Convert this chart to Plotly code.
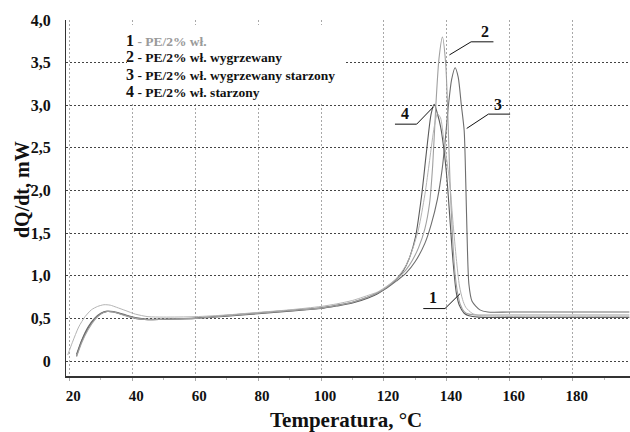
import plotly.graph_objects as go

# ---------------- data ----------------
t1 = [19.5, 21, 23, 25, 27, 29, 31, 33, 35, 38, 41, 45, 50, 60, 70, 80, 90, 100, 105, 110, 115, 118, 121, 124, 127, 129, 131, 133, 134.5, 136, 137, 138, 139, 140, 141, 142, 143, 144, 145, 146, 148, 150, 155, 165, 180, 198]
y1 = [0.07, 0.22, 0.40, 0.52, 0.60, 0.64, 0.66, 0.655, 0.63, 0.59, 0.55, 0.52, 0.515, 0.52, 0.54, 0.57, 0.60, 0.64, 0.67, 0.71, 0.77, 0.81, 0.88, 0.97, 1.12, 1.30, 1.55, 1.95, 2.35, 2.75, 2.90, 2.85, 2.60, 2.35, 2.05, 1.60, 1.20, 0.88, 0.72, 0.63, 0.56, 0.535, 0.525, 0.52, 0.52, 0.52]

t2 = [22.3, 24, 26, 28, 30, 32, 34, 37, 41, 45, 50, 60, 70, 80, 90, 100, 105, 110, 115, 118, 121, 124, 127, 129, 131, 133, 134.5, 135.5, 136.5, 137.5, 138.6, 139.6, 140.2, 141, 141.8, 142.6, 143.4, 144.3, 145.5, 147, 150, 155, 165, 180, 198]
y2 = [0.05, 0.22, 0.37, 0.48, 0.55, 0.58, 0.575, 0.54, 0.50, 0.485, 0.49, 0.50, 0.53, 0.56, 0.59, 0.62, 0.65, 0.69, 0.75, 0.80, 0.87, 0.96, 1.07, 1.18, 1.33, 1.55, 1.85, 2.30, 3.00, 3.55, 3.80, 3.50, 3.00, 2.10, 1.45, 1.02, 0.80, 0.66, 0.58, 0.55, 0.54, 0.54, 0.54, 0.54, 0.54]

t3 = [22.3, 24, 26, 28, 30, 32, 34, 37, 41, 45, 50, 60, 70, 80, 90, 100, 105, 110, 115, 118, 121, 124, 127, 130, 133, 135, 137, 138.5, 139.5, 140.5, 141.5, 142.6, 143.6, 144.6, 145.5, 146.0, 146.4, 147.0, 148.0, 150.5, 153, 160, 180, 198]
y3 = [0.08, 0.25, 0.40, 0.50, 0.56, 0.585, 0.58, 0.55, 0.51, 0.49, 0.49, 0.505, 0.535, 0.565, 0.595, 0.625, 0.655, 0.69, 0.75, 0.80, 0.86, 0.94, 1.03, 1.17, 1.38, 1.60, 1.90, 2.25, 2.60, 3.00, 3.30, 3.44, 3.33, 3.00, 2.70, 2.10, 1.50, 0.90, 0.70, 0.60, 0.575, 0.575, 0.575, 0.575]

t4 = [22.3, 24, 26, 28, 30, 32, 34, 37, 41, 45, 50, 60, 70, 80, 90, 100, 105, 110, 115, 118, 121, 124, 126, 128, 130, 132, 133.5, 135, 136, 137, 138, 139, 140, 141, 142, 143, 144, 145.5, 147, 150, 155, 165, 180, 198]
y4 = [0.06, 0.24, 0.39, 0.49, 0.555, 0.58, 0.575, 0.545, 0.50, 0.485, 0.49, 0.50, 0.525, 0.555, 0.585, 0.615, 0.645, 0.68, 0.74, 0.79, 0.86, 0.96, 1.05, 1.20, 1.45, 1.95, 2.45, 2.90, 3.01, 2.90, 2.75, 2.50, 2.15, 1.65, 1.15, 0.80, 0.65, 0.56, 0.53, 0.515, 0.51, 0.51, 0.51, 0.51]

legend_nums = ["1", "2", "3", "4"]
legend_texts = ["PE/2% wł.", "PE/2% wł. wygrzewany", "PE/2% wł. wygrzewany starzony", "PE/2% wł. starzony"]

x_ticks = [20, 40, 60, 80, 100, 120, 140, 160, 180]
y_ticks = [0, 0.5, 1.0, 1.5, 2.0, 2.5, 3.0, 3.5, 4.0]
y_ticktext = ["0", "0,5", "1,0", "1,5", "2,0", "2,5", "3,0", "3,5", "4,0"]

# callout labels: (label, text x, text y, leader polyline xs, ys)
callouts = [
    ("2", 152.2, 3.86, [154.8, 147.7, 140.8], [3.744, 3.744, 3.59]),
    ("3", 156.4, 3.01, [160.1, 153.2, 146.3], [2.896, 2.896, 2.728]),
    ("4", 126.7, 2.90, [123.5, 130.4, 135.7], [2.778, 2.778, 2.98]),
    ("1", 135.7, 0.75, [132.5, 139.4, 144.2], [0.615, 0.615, 0.79]),
]

# ---------------- figure ----------------
SERIF = "Liberation Serif"
fig = go.Figure()

series = [
    (t4, y4, "#5a5a5a", 1.1),
    (t3, y3, "#6e6e6e", 1.1),
    (t2, y2, "#a0a0a0", 1.1),
    (t1, y1, "#b4b4b4", 1.0),
]
for tx, ty, col, w in series:
    fig.add_trace(go.Scatter(x=tx, y=ty, mode="lines",
                             line=dict(color=col, width=w, shape="spline", smoothing=0.7),
                             showlegend=False, hoverinfo="skip"))

for lab, tx, ty, lx, ly in callouts:
    fig.add_trace(go.Scatter(x=lx, y=ly, mode="lines", line=dict(color="#111", width=1),
                             showlegend=False, hoverinfo="skip"))
    fig.add_annotation(x=tx, y=ty, text=f"<b>{lab}</b>", showarrow=False,
                       xanchor="center", yanchor="middle",
                       font=dict(family=SERIF, size=16, color="#111"))

# plot-area pixel frame
L, R, T, B = 66, 630, 20, 376
W, H = R - L, B - T
def px(x):
    return (x - L) / W
def py(y):
    return 1 - (y - T) / H

# legend box
fig.add_shape(type="rect", xref="paper", yref="paper",
              x0=px(127), x1=px(345), y0=py(102), y1=py(25),
              fillcolor="white", line=dict(width=0), layer="above")
row_y = [40, 57, 74, 91]
for i, (n, txt) in enumerate(zip(legend_nums, legend_texts)):
    col = "#9a9a9a" if i == 0 else "#111"
    fig.add_annotation(xref="paper", yref="paper", x=px(124), y=py(row_y[i]),
                       xanchor="left", yanchor="middle", showarrow=False,
                       text=f"<span style='font-size:16px;color:#111'><b>{n}</b></span>"
                            f"<b> - {txt}</b>",
                       font=dict(family=SERIF, size=13.5, color=col))

# axis titles
fig.add_annotation(xref="paper", yref="paper", x=px(346), y=py(420),
                   xanchor="center", yanchor="middle",
                   text="<b>Temperatura, °C</b>", showarrow=False,
                   font=dict(family=SERIF, size=21, color="#111"))
fig.add_annotation(xref="paper", yref="paper", x=px(22), y=py(190),
                   xanchor="center", yanchor="middle",
                   text="<b>dQ/dt, mW</b>", showarrow=False, textangle=-90,
                   font=dict(family=SERIF, size=20, color="#111"))

fig.update_layout(
    width=630, height=432,
    margin=dict(l=L, r=630 - R, t=T, b=432 - B),
    paper_bgcolor="white", plot_bgcolor="white",
    showlegend=False,
)
fig.update_xaxes(
    range=[18.95, 198.2], tickvals=x_ticks, ticktext=[str(v) for v in x_ticks],
    showgrid=True, gridcolor="#a8a8a8", griddash="2px,2px", gridwidth=1.3,
    showline=True, linecolor="#333", linewidth=1.5,
    ticks="outside", ticklen=3, tickcolor="#aaa",
    minor=dict(dtick=10, tick0=20, ticks="outside", ticklen=2, tickcolor="#bbb", showgrid=False),
    tickfont=dict(family=SERIF, size=15, color="#111", weight="bold"),
    ticklabelshift=4, ticklabelstandoff=2, zeroline=False,
)
fig.update_yaxes(
    range=[-0.176, 4.0], tickvals=y_ticks, ticktext=y_ticktext,
    showgrid=True, gridcolor="#444", griddash="2px,2px", gridwidth=1,
    showline=True, linecolor="#333", linewidth=1,
    ticks="", tickfont=dict(family=SERIF, size=16, color="#111", weight="bold"),
    ticklabelstandoff=11, zeroline=False,
)

fig.write_html("out.html")
